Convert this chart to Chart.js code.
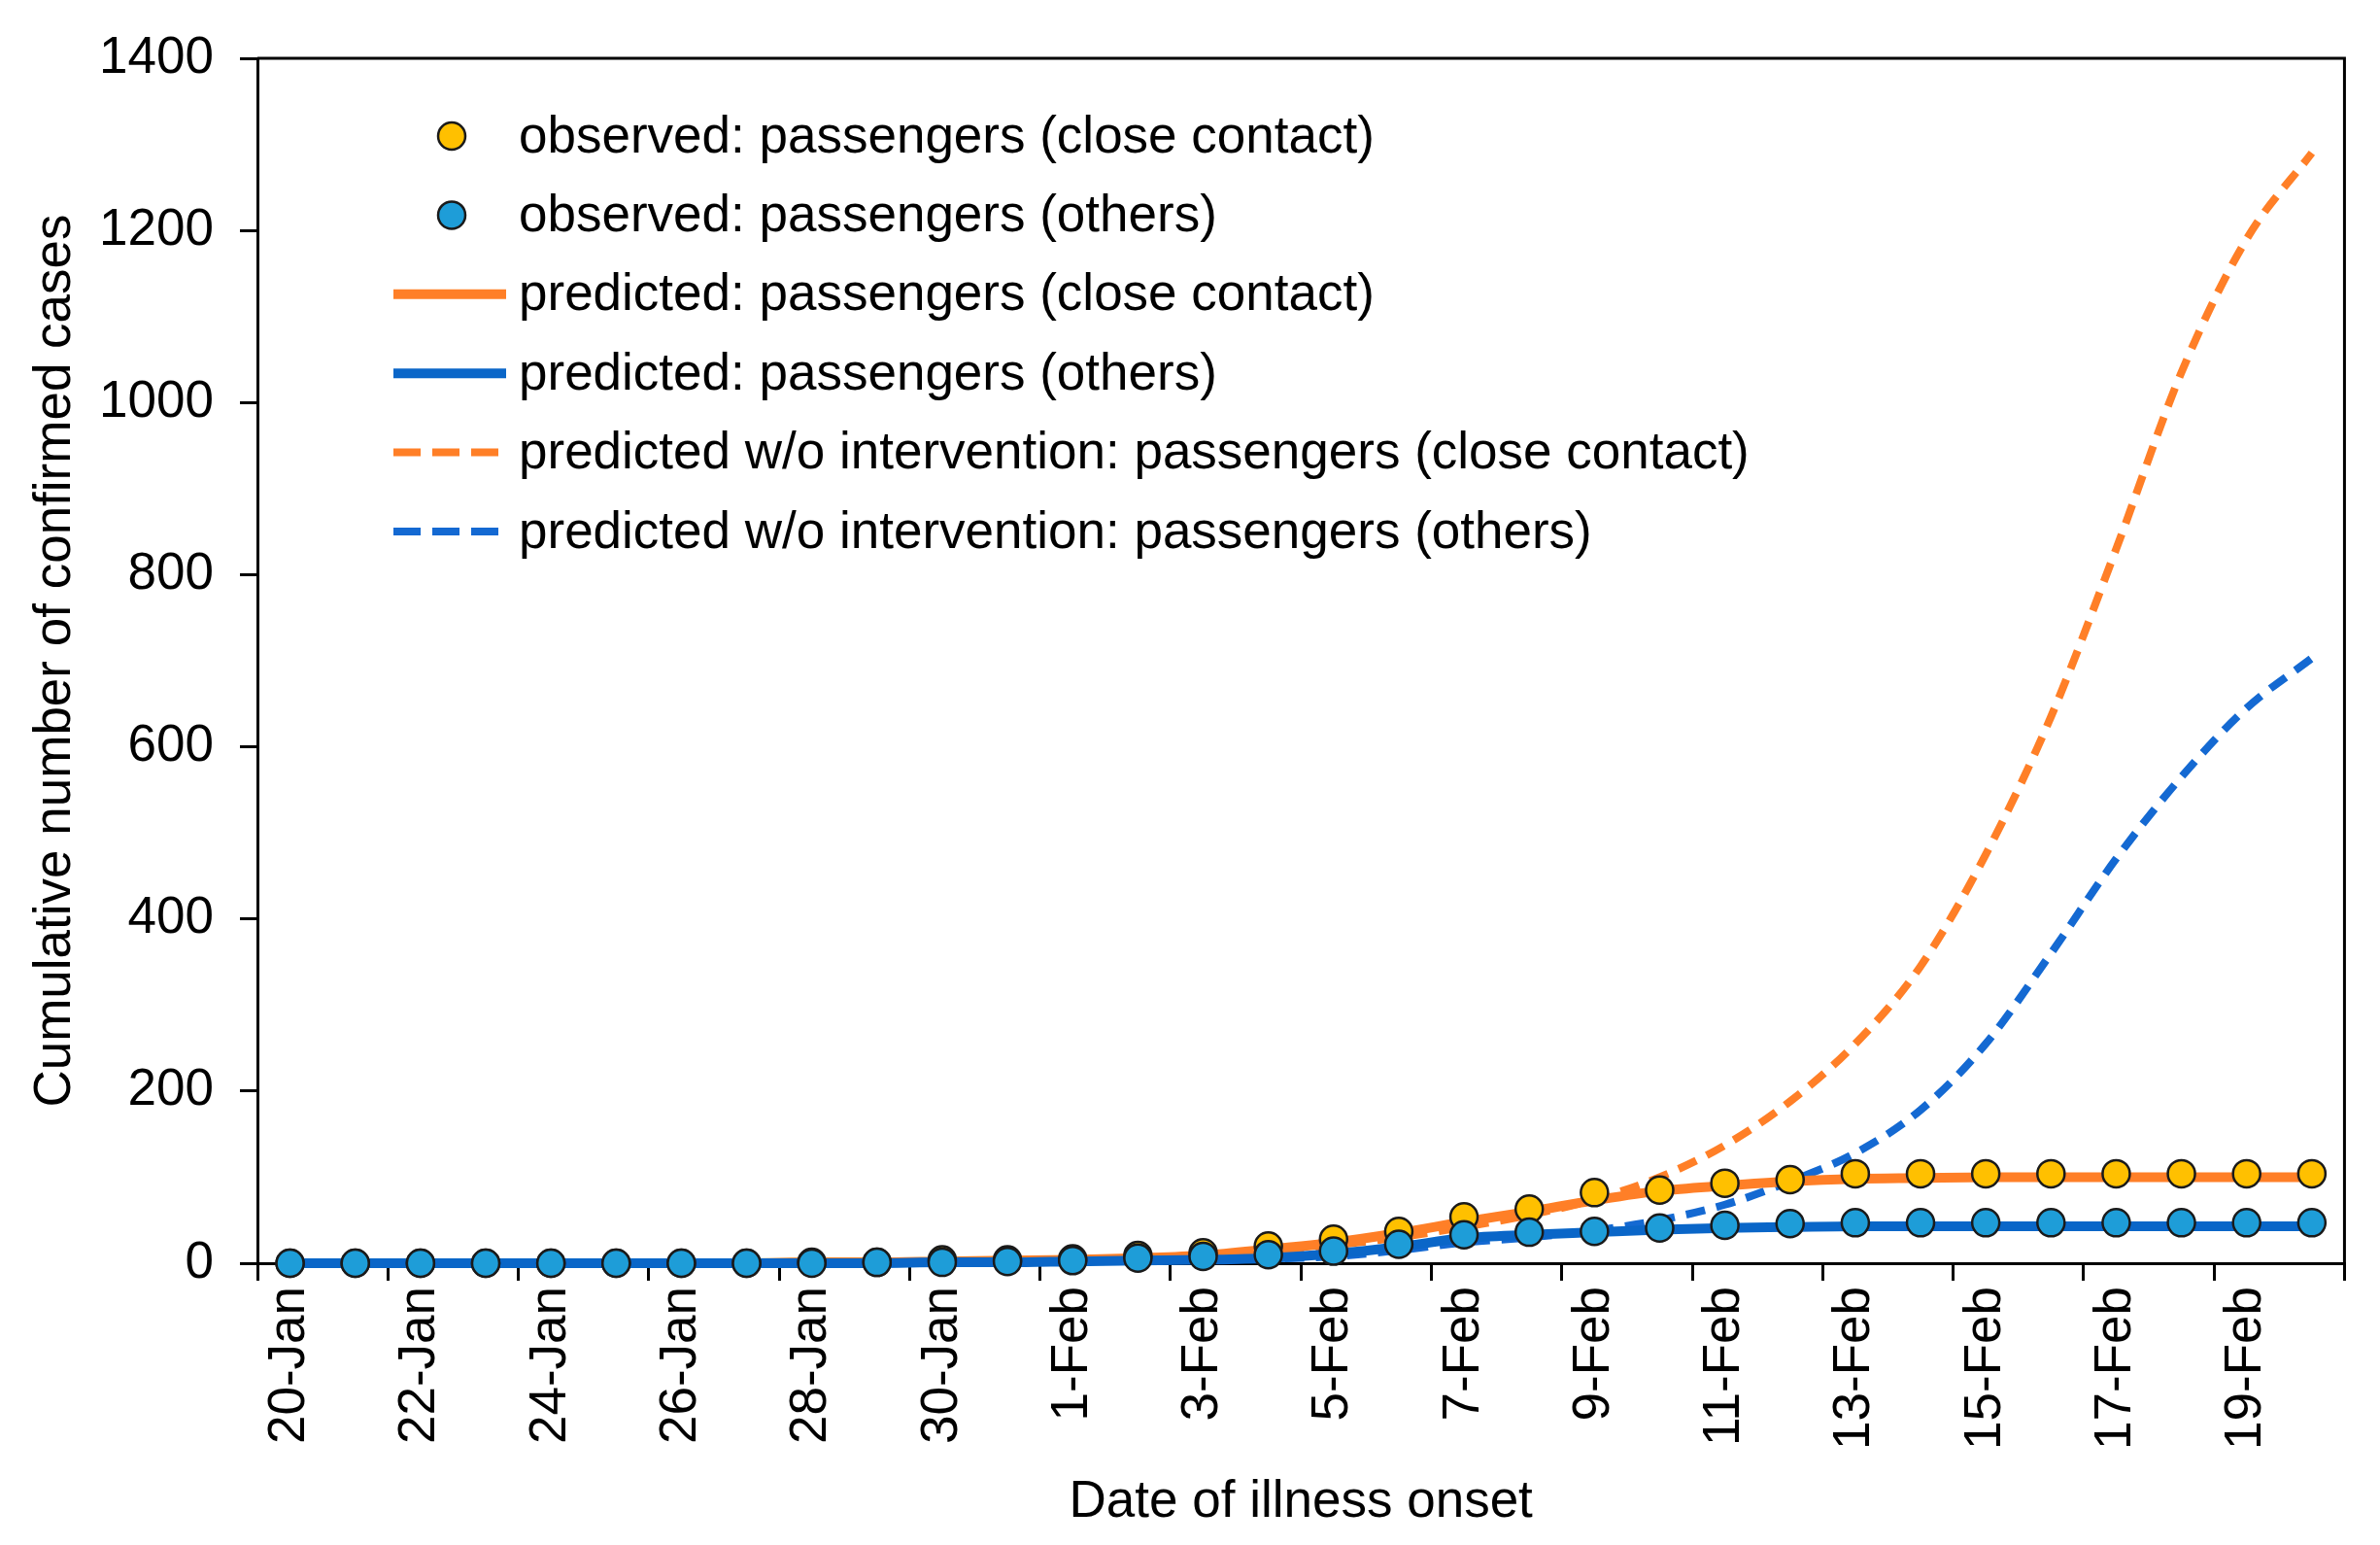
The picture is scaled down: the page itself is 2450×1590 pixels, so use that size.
<!DOCTYPE html>
<html>
<head>
<meta charset="utf-8">
<script src="https://cdn.jsdelivr.net/npm/chart.js@4.4.1/dist/chart.umd.min.js"></script>
<style>
html,body{margin:0;padding:0;background:#fff;}
#wrap{width:2450px;height:1590px;position:relative;}
canvas{display:block;}
</style>
</head>
<body>
<div id="wrap"><canvas id="c" width="2450" height="1590"></canvas></div>
<script>
const categories = ['20-Jan','21-Jan','22-Jan','23-Jan','24-Jan','25-Jan','26-Jan','27-Jan','28-Jan','29-Jan','30-Jan','31-Jan',
  '1-Feb','2-Feb','3-Feb','4-Feb','5-Feb','6-Feb','7-Feb','8-Feb','9-Feb','10-Feb','11-Feb','12-Feb','13-Feb','14-Feb',
  '15-Feb','16-Feb','17-Feb','18-Feb','19-Feb','20-Feb'];

const observedClose  = [0,0,0,0,0,0,0,0,1,1,4,4,5,9,12,20,28,37,54,63,82,85,93,97,104,104,104,104,104,104,104,104];
const observedOthers = [0,0,0,0,0,0,0,0,0,1,1,2,3,6,8,10,14,22,33,36,37,41,44,46,47,47,47,47,47,47,47,47];
const predictedClose = [0,0,0,0,0,0,0,0,1,1,2,3,4,6,9,16,24,35,48,60,73,84,90,95,98,99,100,100,100,100,100,100];
const predictedOthers= [0,0,0,0,0,0,0,0,0,0,1,1,2,3,4,6,11,19,29,33,36,39,41,42,43,43,43,43,43,43,43,43];
const noInterventionClose  = [0,0,0,0,0,0,0,0,1,1,2,3,4,6,9,14,21,30,42,56,74,100,137,188,255,345,475,635,830,1035,1190,1290];
const noInterventionOthers = [0,0,0,0,0,0,0,0,0,0,1,1,2,3,4,5,8,15,24,30,38,50,68,95,128,178,255,360,470,565,645,703];

const seriesLabels = [
  'observed: passengers (close contact)',
  'observed: passengers (others)',
  'predicted: passengers (close contact)',
  'predicted: passengers (others)',
  'predicted w/o intervention: passengers (close contact)',
  'predicted w/o intervention: passengers (others)'
];
const yTicks = [0,200,400,600,800,1000,1200,1400];

const FONT = '"Liberation Sans", Arial, Helvetica, sans-serif';
const FS = 53;
const ORANGE = '#FF7F27';
const BLUE = '#0A66C8';
const BLUE_DASH = '#1469D2';
const YELLOW_FILL = '#FFC000';
const BLUE_FILL = '#1E9DD8';

const framePlugin = {
  id: 'frame',
  beforeDatasetsDraw(chart) {
    const {ctx, chartArea: a} = chart;
    ctx.save();
    ctx.strokeStyle = '#000';
    ctx.lineWidth = 3;
    ctx.beginPath();
    ctx.moveTo(a.left, a.top);
    ctx.lineTo(a.right, a.top);
    ctx.lineTo(a.right, a.bottom);
    ctx.stroke();
    ctx.restore();
  }
};

const legendPlugin = {
  id: 'insideLegend',
  afterDraw(chart) {
    const ctx = chart.ctx;
    const x0 = 405, x1 = 521, xm = 465, xt = 534, y0 = 140, dy = 81.4;
    ctx.save();
    chart.data.datasets.forEach((ds, k) => {
      const y = y0 + k * dy;
      if (ds.showLine === false) {
        ctx.beginPath();
        ctx.arc(xm, y, ds.pointRadius, 0, Math.PI * 2);
        ctx.fillStyle = ds.pointBackgroundColor;
        ctx.fill();
        ctx.lineWidth = ds.pointBorderWidth;
        ctx.strokeStyle = ds.pointBorderColor;
        ctx.stroke();
      } else {
        ctx.beginPath();
        ctx.strokeStyle = ds.borderColor;
        ctx.lineWidth = ds.borderWidth;
        if (ds.borderDash && ds.borderDash.length) {
          ctx.setLineDash([28, 12]);
          ctx.moveTo(x0, y); ctx.lineTo(513, y);
        } else {
          ctx.setLineDash([]);
          ctx.moveTo(x0, y); ctx.lineTo(x1, y);
        }
        ctx.stroke();
        ctx.setLineDash([]);
      }
      ctx.fillStyle = '#000';
      ctx.font = FS + 'px ' + FONT;
      ctx.textAlign = 'left';
      ctx.textBaseline = 'middle';
      ctx.fillText(ds.label, xt, y + 2);
    });
    ctx.restore();
  }
};

const pointSet = (label, data, fill, order) => ({
  label, data, order,
  showLine: false,
  pointRadius: 14, pointHoverRadius: 14,
  pointBackgroundColor: fill, pointBorderColor: '#1a1a1a', pointBorderWidth: 2.5,
  backgroundColor: fill, borderColor: '#1a1a1a',
  clip: false
});
const lineSet = (label, data, color, width, dash, order) => ({
  label, data, order,
  borderColor: color, backgroundColor: color,
  borderWidth: width, borderDash: dash,
  pointRadius: 0, pointHoverRadius: 0,
  cubicInterpolationMode: 'monotone',
  fill: false, clip: false
});

new Chart(document.getElementById('c'), {
  type: 'line',
  data: {
    labels: categories,
    datasets: [
      pointSet(seriesLabels[0], observedClose, YELLOW_FILL, 1),
      pointSet(seriesLabels[1], observedOthers, BLUE_FILL, 0),
      lineSet(seriesLabels[2], predictedClose, ORANGE, 10, [], 3),
      lineSet(seriesLabels[3], predictedOthers, BLUE, 10, [], 2),
      lineSet(seriesLabels[4], noInterventionClose, ORANGE, 8, [20, 12], 5),
      lineSet(seriesLabels[5], noInterventionOthers, BLUE_DASH, 8, [20, 12], 4)
    ]
  },
  options: {
    responsive: false,
    devicePixelRatio: 1,
    animation: false,
    events: [],
    layout: { padding: { left: 0, right: 35, top: 60, bottom: 0 } },
    plugins: { legend: { display: false }, tooltip: { enabled: false } },
    scales: {
      x: {
        type: 'category',
        offset: true,
        grid: {
          display: true, drawOnChartArea: false, drawTicks: true, tickLength: 18, offset: true, lineWidth: 3,
          color: (ctx) => (ctx.index === undefined || ctx.index % 2 === 0) ? '#000' : 'rgba(0,0,0,0)'
        },
        border: { display: true, color: '#000', width: 3 },
        ticks: {
          autoSkip: false, maxRotation: 90, minRotation: 90, padding: 6, color: '#000',
          font: { family: FONT, size: FS },
          callback: function (v, i) { return i % 2 === 0 ? this.getLabelForValue(v) : ''; }
        },
        title: {
          display: true, text: 'Date of illness onset', color: '#000',
          font: { family: FONT, size: FS }, padding: { top: 0, bottom: 12 }
        },
        afterFit: (s) => { s.height = 290; }
      },
      y: {
        type: 'linear', min: yTicks[0], max: yTicks[yTicks.length - 1],
        afterBuildTicks: (s) => { s.ticks = yTicks.map(v => ({ value: v })); },
        grid: { display: true, drawOnChartArea: false, drawTicks: true, tickLength: 18, lineWidth: 3, color: '#000' },
        border: { display: true, color: '#000', width: 3 },
        ticks: { padding: 27, color: '#000', font: { family: FONT, size: FS }, callback: (v) => String(v) },
        title: {
          display: true, text: 'Cumulative number of confirmed cases', color: '#000',
          font: { family: FONT, size: FS }, padding: { top: 26, bottom: 0 }
        },
        afterFit: (s) => { s.width = 265; }
      }
    }
  },
  plugins: [framePlugin, legendPlugin]
});
</script>
</body>
</html>
